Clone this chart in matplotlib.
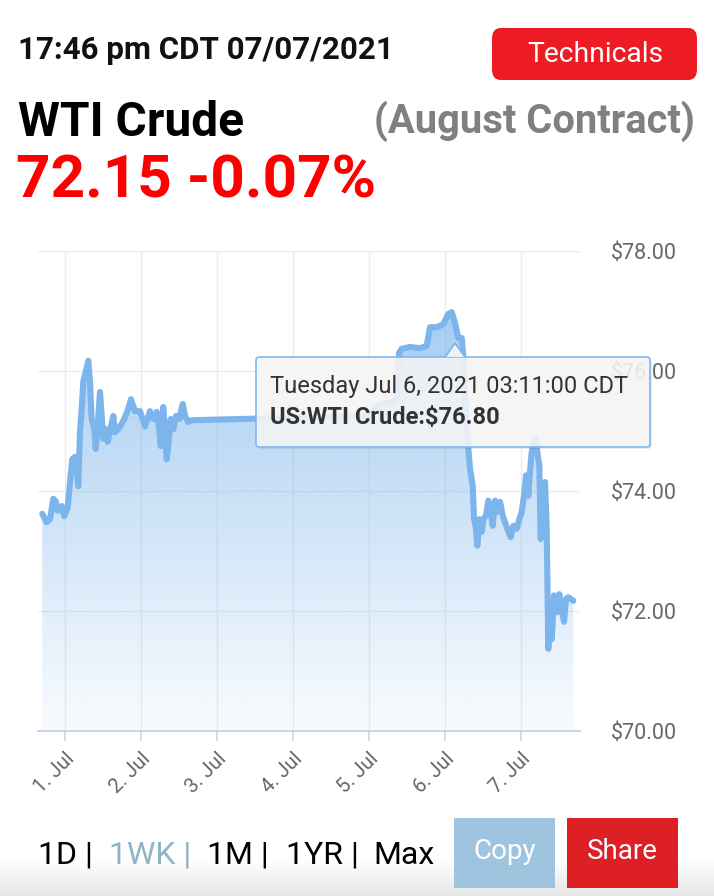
import numpy as np
import matplotlib
matplotlib.use("Agg")
import matplotlib.pyplot as plt
from matplotlib.patches import FancyBboxPatch, Polygon
from matplotlib.colors import LinearSegmentedColormap

plt.rcParams['font.family'] = ['Roboto', 'DejaVu Sans']

# ---- data: days since 1 Jul 2021 00:00 (CDT) and WTI price ----
days = [-0.299, -0.241, -0.197, -0.154, -0.122, -0.096, -0.043, -0.009, 0.036, 0.066,
        0.096, 0.132, 0.175, 0.197, 0.220, 0.241, 0.272, 0.307, 0.329, 0.351,
        0.386, 0.404, 0.430, 0.461, 0.483, 0.504, 0.536, 0.562, 0.605, 0.636,
        0.658, 0.724, 0.780, 0.833, 0.868, 0.921, 0.987, 1.053, 1.118, 1.162,
        1.207, 1.241, 1.259, 1.293, 1.316, 1.338, 1.359, 1.391, 1.425, 1.461,
        1.504, 1.549, 1.579, 1.622, 1.667, 3.947, 4.013, 4.145, 4.303, 4.368,
        4.395, 4.430, 4.539, 4.671, 4.759, 4.803, 4.891, 4.978, 5.043, 5.088,
        5.132, 5.175, 5.220, 5.241, 5.263, 5.307, 5.329, 5.364, 5.382, 5.408,
        5.425, 5.451, 5.483, 5.504, 5.539, 5.570, 5.601, 5.628, 5.658, 5.688,
        5.724, 5.759, 5.789, 5.820, 5.864, 5.899, 5.943, 5.978, 6.009, 6.039,
        6.066, 6.096, 6.118, 6.141, 6.162, 6.197, 6.214, 6.241, 6.259, 6.286,
        6.316, 6.338, 6.359, 6.382, 6.404, 6.434, 6.470, 6.504, 6.536, 6.566,
        6.592, 6.622, 6.688]
prices = [73.62, 73.48, 73.53, 73.87, 73.83, 73.67, 73.75, 73.58, 73.73, 74.15,
          74.53, 74.57, 74.08, 74.98, 75.37, 75.83, 75.98, 76.17, 75.82, 75.20,
          75.03, 74.70, 75.08, 75.65, 75.25, 74.87, 75.03, 74.82, 75.08, 75.25,
          74.98, 75.07, 75.20, 75.37, 75.53, 75.33, 75.33, 75.08, 75.33, 75.20,
          75.32, 75.03, 74.75, 75.40, 75.03, 74.53, 74.75, 75.20, 75.03, 75.25,
          75.20, 75.45, 75.25, 75.15, 75.18, 75.25, 75.30, 75.45, 75.48, 75.55,
          76.30, 76.37, 76.40, 76.38, 76.42, 76.73, 76.73, 76.78, 76.95, 76.98,
          76.80, 76.55, 76.55, 76.25, 75.60, 74.70, 74.37, 74.09, 73.53, 73.37,
          73.09, 73.53, 73.32, 73.53, 73.59, 73.84, 73.65, 73.42, 73.84, 73.65,
          73.82, 73.59, 73.48, 73.37, 73.23, 73.42, 73.37, 73.53, 73.65, 73.92,
          74.26, 73.92, 74.32, 74.65, 74.76, 74.87, 74.65, 74.42, 73.20, 74.09,
          74.15, 73.37, 71.37, 72.09, 71.53, 72.26, 71.98, 72.28, 72.00, 71.82,
          72.20, 72.23, 72.17]
x_ticks = [0, 1, 2, 3, 4, 5, 6]
x_labels = ["1. Jul", "2. Jul", "3. Jul", "4. Jul", "5. Jul", "6. Jul", "7. Jul"]
y_ticks = [70, 72, 74, 76, 78]
y_labels = ["$70.00", "$72.00", "$74.00", "$76.00", "$78.00"]
tooltip_day, tooltip_price = 5.132, 76.80
tooltip_lines = ["Tuesday Jul 6, 2021 03:11:00 CDT", "US:WTI Crude:$76.80"]
ranges = ["1D |", "1WK |", "1M |", "1YR |", "Max"]

W, H = 714, 896
fig = plt.figure(figsize=(W / 100, H / 100), dpi=100)
fig.patch.set_facecolor('white')

def fx(px):
    return px / W

def fy(py):
    return 1 - py / H

# subtle page shading at the bottom
bg = fig.add_axes([0, 0, 1, 1], zorder=-10)
bg.axis('off')
shade = np.linspace(0, 1, 200).reshape(-1, 1)
bg.imshow(shade, cmap=LinearSegmentedColormap.from_list('s', [(0.9, 0.9, 0.9, 1), (1, 1, 1, 1)]),
          extent=[0, 1, 0, 1 - 860 / H], aspect='auto', origin='lower')
bg.set_xlim(0, 1)
bg.set_ylim(0, 1)

# ---- chart axes ----
L, R, T, B = 38, 580, 251, 731
ax = fig.add_axes([fx(L), fy(B), (R - L) / W, (B - T) / H])
ax.set_facecolor('none')
for s in ['top', 'left', 'right']:
    ax.spines[s].set_visible(False)
ax.spines['bottom'].set_color('#ccd6eb')
ax.spines['bottom'].set_linewidth(1.5)

ax.set_yticks(y_ticks)
ax.set_yticklabels(y_labels)
ax.yaxis.tick_right()
ax.tick_params(axis='y', length=0, pad=22, labelsize=15.5, labelcolor='#666666')
ax.set_xticks(x_ticks)
ax.set_xticklabels(x_labels, rotation=45, ha='right', va='top', rotation_mode='anchor')
ax.tick_params(axis='x', length=7, width=1.2, color='#ccd6eb', pad=6,
               labelsize=14.5, labelcolor='#666666')
ax.grid(True, color='#ececec', linewidth=1)
ax.set_axisbelow(True)

# gradient fill under the line
xs = np.array(days)
ys = np.array(prices)
poly = ax.fill_between(xs, ys, 70, color='none', lw=0)
cmap = LinearSegmentedColormap.from_list('g', [(124/255, 181/255, 236/255, 0.05),
                                               (124/255, 181/255, 236/255, 0.68)])
grad = np.linspace(0, 1, 256).reshape(-1, 1)
im = ax.imshow(grad, cmap=cmap, aspect='auto', origin='lower',
               extent=[xs.min(), xs.max(), 70, 77.0], zorder=1.5)
path = poly.get_paths()[0]
im.set_clip_path(path, transform=ax.transData)
ax.plot(xs, ys, color='#7cb5ec', lw=4.4, solid_joinstyle='round',
        solid_capstyle='round', zorder=2)
ax.set_xlim(-0.355, 6.776)
ax.set_ylim(70, 78)

# ---- tooltip ----
tx0, ty0, tx1, ty1 = 256, 357, 650, 447
shadow = FancyBboxPatch((fx(tx0 + 2), fy(ty1 + 2)), (tx1 - tx0) / W, (ty1 - ty0) / H,
                        boxstyle='round,pad=0,rounding_size=0.004',
                        transform=fig.transFigure, facecolor='#000000', alpha=0.08,
                        edgecolor='none', zorder=9)
fig.add_artist(shadow)
box = FancyBboxPatch((fx(tx0), fy(ty1)), (tx1 - tx0) / W, (ty1 - ty0) / H,
                     boxstyle='round,pad=0,rounding_size=0.004',
                     transform=fig.transFigure, facecolor='#f7f7f7', alpha=0.88,
                     edgecolor='#7cb5ec', linewidth=1.3, zorder=10)
fig.add_artist(box)
px_tip = L + (tooltip_day + 0.355) / (6.776 + 0.355) * (R - L)
py_tip = T + (78 - tooltip_price) / 8 * (B - T) + 20
tri = Polygon([[fx(px_tip - 10), fy(ty0)], [fx(px_tip), fy(py_tip)],
               [fx(px_tip + 10), fy(ty0)]], closed=True, transform=fig.transFigure,
              facecolor='#f7f7f7', alpha=0.88, edgecolor='none', zorder=11)
fig.add_artist(tri)
fig.add_artist(plt.Line2D([fx(px_tip - 10), fx(px_tip), fx(px_tip + 10)],
                          [fy(ty0), fy(py_tip), fy(ty0)], transform=fig.transFigure,
                          color='#7cb5ec', lw=1.3, zorder=12))
fig.text(fx(270), fy(387), tooltip_lines[0], fontsize=17, color='#333333',
         va='center', ha='left', zorder=13)
fig.text(fx(270), fy(417), tooltip_lines[1], fontsize=17, color='#333333',
         fontweight='bold', va='center', ha='left', zorder=13)

# ---- header ----
fig.text(fx(18), fy(50), "17:46 pm CDT 07/07/2021", fontsize=22.5, fontweight='bold',
         color='#111111', va='center', ha='left')
btn = FancyBboxPatch((fx(492), fy(80)), (697 - 492) / W, (80 - 28) / H,
                     boxstyle='round,pad=0,rounding_size=0.012',
                     transform=fig.transFigure, facecolor='#ed1c24', edgecolor='none')
fig.add_artist(btn)
fig.text(fx(595), fy(54), "Technicals", fontsize=20.3, color='white',
         va='center', ha='center')
fig.text(fx(18), fy(123), "WTI Crude", fontsize=34.5, fontweight='bold',
         color='#000000', va='center', ha='left')
fig.text(fx(695), fy(121), "(August Contract)", fontsize=28.7, fontweight='bold',
         color='#808080', va='center', ha='right')
fig.text(fx(16), fy(181), "72.15 -0.07%", fontsize=43.4, fontweight='bold',
         color='#ff0000', va='center', ha='left')

# ---- bottom controls ----
range_x = [38, 109, 207, 286, 373]
range_c = ['#000000', '#8fb4c6', '#000000', '#000000', '#000000']
for lbl, xp, c in zip(ranges, range_x, range_c):
    fig.text(fx(xp), fy(855), lbl, fontsize=23, color=c, va='center', ha='left')
copy_b = FancyBboxPatch((fx(454), fy(888)), (555 - 454) / W, (888 - 818) / H,
                        boxstyle='square,pad=0', transform=fig.transFigure,
                        facecolor='#9fc4df', edgecolor='none')
fig.add_artist(copy_b)
fig.text(fx(504.5), fy(851), "Copy", fontsize=20, color='white', va='center', ha='center')
share_b = FancyBboxPatch((fx(567), fy(888)), (678 - 567) / W, (888 - 818) / H,
                         boxstyle='square,pad=0', transform=fig.transFigure,
                         facecolor='#dd1f26', edgecolor='none')
fig.add_artist(share_b)
fig.text(fx(622.5), fy(851), "Share", fontsize=20, color='white', va='center', ha='center')

fig.savefig('out.png', dpi=100, facecolor='white')
